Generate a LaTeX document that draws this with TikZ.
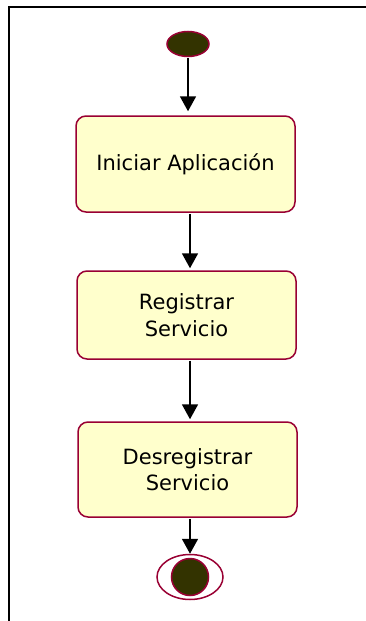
\documentclass[tikz,border=0pt]{standalone}
\usepackage{fontspec}
\setmainfont{DejaVu Sans}
\usetikzlibrary{arrows.meta,shapes.geometric}
\definecolor{umlborder}{HTML}{990033}
\definecolor{umlfill}{HTML}{FFFFCC}
\definecolor{umldark}{HTML}{333300}
\begin{document}
\begin{tikzpicture}[x=1pt,y=-1pt,
  actbox/.style={draw=umlborder,line width=1.5pt,fill=umlfill,rounded corners=10pt,
    minimum width=219pt,inner sep=0pt,align=center,font=\fontsize{21}{26.5}\selectfont},
  flow/.style={line width=1.8pt,-{Triangle[length=15pt,width=16pt]},shorten >=2pt,shorten <=1pt}]
\useasboundingbox (0,0) rectangle (366,621);
\draw[line width=1.8pt] (9,621) -- (9,7) -- (367,7);
\node[ellipse,draw=umlborder,line width=1.5pt,fill=umldark,minimum width=42pt,minimum height=25pt,inner sep=0pt] (start) at (188,44) {};
\node[actbox,minimum height=96pt] (a) at (185.5,164) {Iniciar Aplicación};
\node[actbox,minimum height=88pt] (b) at (186.5,315) {Registrar\\Servicio};
\node[actbox,minimum height=95pt] (c) at (187.5,469.5) {Desregistrar\\Servicio};
\node[ellipse,draw=umlborder,line width=1.5pt,fill=white,minimum width=66pt,minimum height=45pt,inner sep=0pt] (endo) at (190,577) {};
\node[circle,draw=umlborder,line width=1.5pt,fill=umldark,minimum size=37pt,inner sep=0pt] (endi) at (190,577) {};
\draw[flow,shorten >=4pt] (start.south) -- (start.south |- a.north);
\draw[flow] (a.south -| endo.center) -- (b.north -| endo.center);
\draw[flow] (b.south -| endo.center) -- (c.north -| endo.center);
\draw[flow,shorten >=0pt] (c.south -| endo.center) -- (endo.north);
\end{tikzpicture}
\end{document}
